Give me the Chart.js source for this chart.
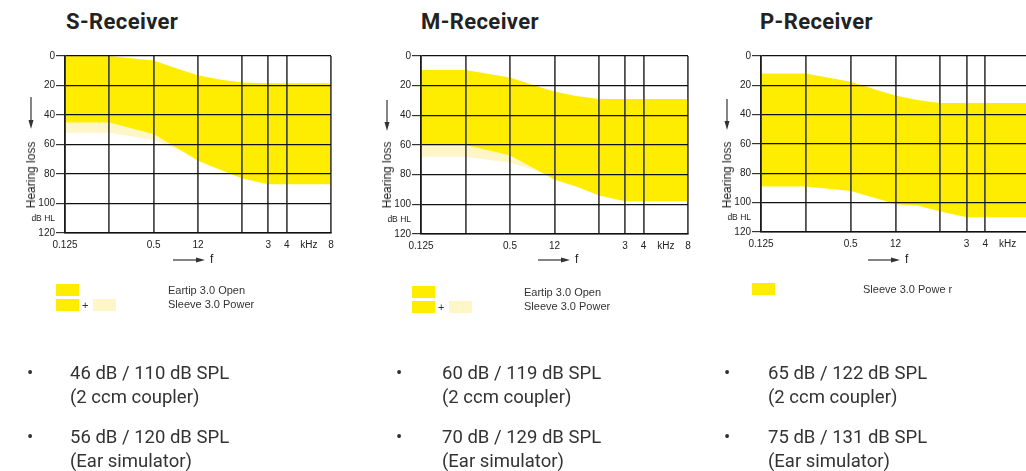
<!DOCTYPE html>
<html>
<head>
<meta charset="utf-8">
<script src="https://cdn.jsdelivr.net/npm/chart.js@4"></script>
<style>
  html, body { margin: 0; padding: 0; background: #fff; }
  body { width: 1026px; height: 471px; overflow: hidden; position: relative; }
  canvas { position: absolute; }
  .t { position: absolute; white-space: nowrap; }
  .title { font-family: Roboto, sans-serif; font-weight: 700; font-size: 22px; letter-spacing: 0.4px; color: #222; line-height: 24px; }
  .hl { font-family: "Liberation Sans", Arial, sans-serif; font-size: 12px; color: #222; line-height: 12px; transform: translate(-50%, -50%) rotate(-90deg); }
  .leg { font-family: "Liberation Sans", Arial, sans-serif; font-size: 11px; color: #333; line-height: 12px; }
  .f { font-family: "Liberation Sans", Arial, sans-serif; font-size: 12px; color: #222; line-height: 12px; }
  .box { position: absolute; }
  .bul { font-family: Roboto, sans-serif; font-size: 18.5px; color: #333; line-height: 22px; }
  svg { position: absolute; left: 0; top: 0; }
</style>
</head>
<body>
<canvas id="cS" width="345" height="222" style="left:0px;top:40px"></canvas>
<canvas id="cM" width="345" height="222" style="left:355px;top:40px"></canvas>
<canvas id="cP" width="345" height="222" style="left:695px;top:40px"></canvas>

<div class="t title" style="left:66px;top:10px">S-Receiver</div>
<div class="t title" style="left:421px;top:10px">M-Receiver</div>
<div class="t title" style="left:760px;top:10px">P-Receiver</div>

<div class="t hl" style="left:31px;top:175px">Hearing loss</div>
<div class="t hl" style="left:387px;top:175px">Hearing loss</div>
<div class="t hl" style="left:727px;top:175px">Hearing loss</div>

<div class="t f" style="left:210px;top:253px">f</div>
<div class="t f" style="left:575px;top:253px">f</div>
<div class="t f" style="left:905px;top:253px">f</div>

<svg width="1026" height="471">
  <g stroke="#333" stroke-width="1.2" fill="#333">
    <line x1="31" y1="97" x2="31" y2="122"/>
    <polygon points="28.5,120 33.5,120 31,129" stroke="none"/>
    <line x1="387" y1="100" x2="387" y2="124"/>
    <polygon points="384.5,122 389.5,122 387,131" stroke="none"/>
    <line x1="727" y1="99" x2="727" y2="123"/>
    <polygon points="724.5,121 729.5,121 727,130" stroke="none"/>
    <line x1="173" y1="260" x2="198" y2="260"/>
    <polygon points="196,257.5 205,260 196,262.5" stroke="none"/>
    <line x1="538" y1="260" x2="563" y2="260"/>
    <polygon points="561,257.5 570,260 561,262.5" stroke="none"/>
    <line x1="868" y1="260" x2="893" y2="260"/>
    <polygon points="891,257.5 900,260 891,262.5" stroke="none"/>
  </g>
</svg>

<!-- legends -->
<div class="box" style="left:56px;top:284px;width:23px;height:12px;background:#FFED00"></div>
<div class="box" style="left:56px;top:299px;width:23px;height:12px;background:#FFED00"></div>
<div class="t leg" style="left:82px;top:299px">+</div>
<div class="box" style="left:93px;top:299px;width:23px;height:12px;background:#FFF6C8"></div>
<div class="t leg" style="left:168px;top:284px">Eartip 3.0 Open</div>
<div class="t leg" style="left:168px;top:298px">Sleeve 3.0 Power</div>

<div class="box" style="left:412px;top:286px;width:23px;height:12px;background:#FFED00"></div>
<div class="box" style="left:412px;top:301px;width:23px;height:12px;background:#FFED00"></div>
<div class="t leg" style="left:438px;top:301px">+</div>
<div class="box" style="left:449px;top:301px;width:23px;height:12px;background:#FFF6C8"></div>
<div class="t leg" style="left:524px;top:286px">Eartip 3.0 Open</div>
<div class="t leg" style="left:524px;top:300px">Sleeve 3.0 Power</div>

<div class="box" style="left:752px;top:283px;width:23px;height:12px;background:#FFED00"></div>
<div class="t leg" style="left:863px;top:283px">Sleeve 3.0 Powe r</div>

<!-- bullets -->
<div class="t bul" style="left:27px;top:362px">•</div>
<div class="t bul" style="left:70px;top:362px">46 dB / 110 dB SPL</div>
<div class="t bul" style="left:70px;top:386px">(2 ccm coupler)</div>
<div class="t bul" style="left:27px;top:426px">•</div>
<div class="t bul" style="left:70px;top:426px">56 dB / 120 dB SPL</div>
<div class="t bul" style="left:70px;top:450px">(Ear simulator)</div>

<div class="t bul" style="left:396px;top:362px">•</div>
<div class="t bul" style="left:442px;top:362px">60 dB / 119 dB SPL</div>
<div class="t bul" style="left:442px;top:386px">(2 ccm coupler)</div>
<div class="t bul" style="left:396px;top:426px">•</div>
<div class="t bul" style="left:442px;top:426px">70 dB / 129 dB SPL</div>
<div class="t bul" style="left:442px;top:450px">(Ear simulator)</div>

<div class="t bul" style="left:724px;top:362px">•</div>
<div class="t bul" style="left:768px;top:362px">65 dB / 122 dB SPL</div>
<div class="t bul" style="left:768px;top:386px">(2 ccm coupler)</div>
<div class="t bul" style="left:724px;top:426px">•</div>
<div class="t bul" style="left:768px;top:426px">75 dB / 131 dB SPL</div>
<div class="t bul" style="left:768px;top:450px">(Ear simulator)</div>

<script>
// ---- data ----
const freqs   = [0.125, 0.25, 0.5, 0.8, 1, 1.4, 2, 3, 4, 8];   // kHz
const sUpper  = [0, 0, 3, 10, 13, 16, 18, 18.5, 18.5, 18.5];
const sLower  = [45, 45, 53, 65, 71, 77, 83, 87, 87, 87];
const sSleeve = [52, 52, 57, 65, 71, 77, 83, 87, 87, 87];
const mUpper  = [9.5, 9.5, 14.5, 21, 24, 27, 29, 29, 29, 29];
const mLower  = [60, 60, 67, 78, 83.5, 88, 94, 98, 98, 98];
const mSleeve = [68, 68, 72, 78, 83.5, 88, 94, 98, 98, 98];
const pUpper  = [12, 12, 17.5, 24, 27, 30, 32, 32, 32, 32];
const pLower  = [89, 89, 92, 98, 101, 102, 106, 110, 110, 110];

const xTickValues = [0.125, 0.25, 0.5, 1, 2, 3, 4, 5.66, 8];
const xTickLabels = ['0.125', '', '0.5', '12', '', '3', '4', 'kHz', '8'];
const yTickValues = [0, 20, 40, 60, 80, 100, 110, 120];
const yTickLabels = ['0', '20', '40', '60', '80', '100', 'dB HL', '120'];

const YELLOW = '#FFED00';
const PALE = '#FFF6C8';

function pts(arr) { return freqs.map((f, i) => ({ x: f, y: arr[i] })); }

function makeChart(id, upper, lower, sleeve, cfg) {
  const common = { pointRadius: 0, borderWidth: 0, borderColor: 'transparent', tension: 0 };
  const ds = [
    Object.assign({ data: pts(upper), fill: false }, common),
    Object.assign({ data: pts(lower), fill: '-1', backgroundColor: YELLOW }, common)
  ];
  if (sleeve) ds.push(Object.assign({ data: pts(sleeve), fill: '-1', backgroundColor: PALE }, common));

  new Chart(document.getElementById(id), {
    type: 'line',
    data: { datasets: ds },
    options: {
      responsive: false,
      animation: false,
      layout: { padding: { top: cfg.top, right: cfg.right, left: 0, bottom: 0 } },
      plugins: { legend: { display: false }, tooltip: { enabled: false } },
      scales: {
        x: {
          type: 'logarithmic',
          min: 0.125, max: 8,
          afterBuildTicks: s => { s.ticks = xTickValues.map(v => ({ value: v })); s.min = 0.125; s.max = 8; },
          afterFit: s => { s.height = cfg.xh; },
          ticks: {
            autoSkip: false, maxRotation: 0, minRotation: 0, padding: 6,
            color: '#222', font: { family: 'Liberation Sans', size: 10 },
            callback: (v, i) => xTickLabels[i]
          },
          grid: {
            z: 1, drawTicks: false, lineWidth: 1.8,
            color: ctx => xTickLabels[ctx.index] === 'kHz' ? 'rgba(0,0,0,0)' : '#4d4d4d'
          },
          border: { z: 1, color: '#1a1a1a', width: 1.5 }
        },
        y: {
          type: 'linear', reverse: true,
          min: 0, max: 120,
          afterBuildTicks: s => { s.ticks = yTickValues.map(v => ({ value: v })); s.min = 0; s.max = 120; },
          afterFit: s => { s.width = cfg.yw; },
          ticks: {
            autoSkip: false, padding: 1, color: '#222',
            font: ctx => ctx.index === 6 ? { family: 'Liberation Sans', size: 8.5 } : { family: 'Liberation Sans', size: 10 },
            callback: (v, i) => yTickLabels[i]
          },
          grid: {
            z: 1, drawTicks: true, tickLength: 9, lineWidth: 1.2,
            color: ctx => ctx.index === 6 ? 'rgba(0,0,0,0)' : '#111',
            tickColor: ctx => ctx.index === 6 ? 'rgba(0,0,0,0)' : '#333'
          },
          border: { z: 1, color: '#1a1a1a', width: 1.5 }
        }
      }
    }
  });
}

makeChart('cS', sUpper, sLower, sSleeve, { top: 16, right: 14, xh: 29, yw: 65 });
makeChart('cM', mUpper, mLower, mSleeve, { top: 16, right: 12, xh: 28, yw: 66 });
makeChart('cP', pUpper, pLower, null,    { top: 16, right: 10, xh: 30, yw: 66 });
</script>
</body>
</html>
